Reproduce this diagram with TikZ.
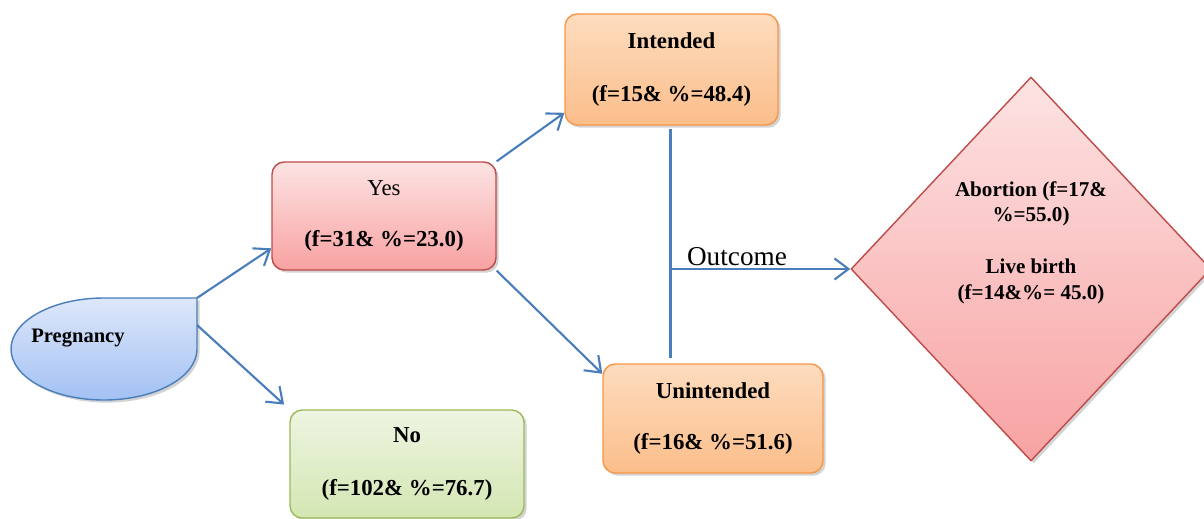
\documentclass[tikz,border=0pt]{standalone}
\usepackage{fontspec}
\setmainfont{Liberation Serif}
\usetikzlibrary{shapes.geometric,arrows.meta,shadows}

\definecolor{arrowblue}{HTML}{4A7EBB}
\definecolor{bluetop}{HTML}{DDE7FA}
\definecolor{bluebot}{HTML}{A3C1F4}
\definecolor{redline}{HTML}{BE4B48}
\definecolor{pinktop}{HTML}{FDE3E3}
\definecolor{pinkbot}{HTML}{F8A2A2}
\definecolor{orangeline}{HTML}{F79646}
\definecolor{orangetop}{HTML}{FDDCBE}
\definecolor{orangebot}{HTML}{FBBE8B}
\definecolor{greenline}{HTML}{9BBB59}
\definecolor{greentop}{HTML}{EEF5E2}
\definecolor{greenbot}{HTML}{D4E6B2}

\begin{document}
\begin{tikzpicture}[font=\fontsize{13}{15}\selectfont\bfseries]

    % Styles
    \tikzstyle{box} = [rectangle, rounded corners=7pt, line width=0.8pt, align=center, inner sep=0pt, drop shadow={shadow xshift=1.5pt, shadow yshift=-1.5pt, opacity=0.35}]
    \tikzstyle{pinkbox} = [box, draw=redline, top color=pinktop, bottom color=pinkbot]
    \tikzstyle{orangebox} = [box, draw=orangeline, top color=orangetop, bottom color=orangebot]
    \tikzstyle{greenbox} = [box, draw=greenline, top color=greentop, bottom color=greenbot]
    \tikzstyle{line} = [line width=1.2pt, draw=arrowblue]
    \tikzstyle{arrow} = [line, -{Straight Barb[length=8pt,width=12pt]}]

    \clip (0,0) rectangle (24.08,10.36);

    % Pregnancy
    \path [draw=arrowblue, line width=0.8pt, top color=bluetop, bottom color=bluebot, drop shadow={shadow xshift=1.5pt, shadow yshift=-1.5pt, opacity=0.35}]
        (3.94,4.40) coordinate (pregcorner) -- (2.08,4.40)
        arc[start angle=90, end angle=360, x radius=1.86cm, y radius=1.02cm] -- cycle;
    \coordinate (pregside) at (3.94,3.86);
    \node (pregnancy) [font=\fontsize{11.7}{14}\selectfont\bfseries] at (1.56,3.60) {Pregnancy};

    % Boxes
    \node (yes) [pinkbox, minimum width=4.48cm, minimum height=2.16cm] at (7.68,6.04) {{\mdseries Yes}\\[14pt](f=31\& \%=23.0)};
    \node (no) [greenbox, minimum width=4.68cm, minimum height=2.16cm] at (8.14,1.08) {No\\[15pt](f=102\& \%=76.7)};
    \node (intended) [orangebox, minimum width=4.26cm, minimum height=2.22cm] at (13.43,8.97) {Intended\\[15pt](f=15\& \%=48.4)};
    \node (unintended) [orangebox, minimum width=4.4cm, minimum height=2.18cm] at (14.26,1.99) {Unintended\\[14pt](f=16\& \%=51.6)};
    \node (outcome) [diamond, draw=redline, line width=0.8pt, top color=pinktop, bottom color=pinkbot, minimum width=7.2cm, minimum height=7.68cm, inner sep=0pt, drop shadow={shadow xshift=1.5pt, shadow yshift=-1.5pt, opacity=0.35}] at (20.62,4.98) {};
    \node (outtext) [align=center, font=\fontsize{12}{14.5}\selectfont\bfseries] at ([yshift=0.53cm]outcome.center) {Abortion (f=17\&\\\%=55.0)\\[15pt]Live birth\\(f=14\&\%= 45.0)};

    % Arrows
    \coordinate (top) at ([xshift=-0.6pt]intended.south);
    \draw [arrow] (pregcorner) -- (yes.196);
    \draw [arrow, shorten >=4pt] (pregside) -- (no.north west);
    \draw [arrow] (yes.north east) -- (intended.202);
    \draw [arrow] (yes.south east) -- (unintended.158);
    \draw [line, shorten <=2pt, shorten >=3pt] (top) -- (top |- unintended.north);
    \draw [arrow] (top |- outcome.west) -- node[above, pos=0.37, inner sep=1pt, font=\fontsize{15.5}{18}\selectfont\mdseries] {Outcome} (outcome.west);

\end{tikzpicture}
\end{document}
